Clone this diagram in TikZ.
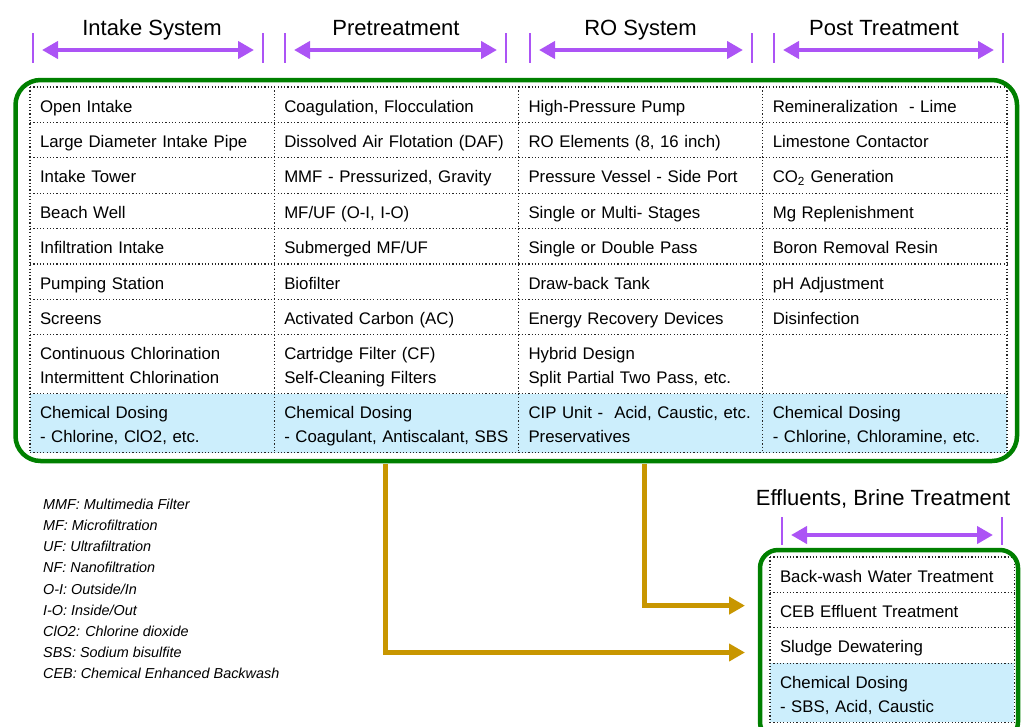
\documentclass[tikz,border=0pt]{standalone}
\usepackage{fontspec}
\setmainfont{Liberation Sans}
\usetikzlibrary{arrows.meta, positioning}

\definecolor{framegreen}{RGB}{0,128,0}
\definecolor{spanviolet}{RGB}{172,84,245}
\definecolor{dosebg}{RGB}{204,238,252}
\definecolor{feedgold}{RGB}{200,150,0}

\begin{document}
\begin{tikzpicture}[x=1pt, y=-1pt,
  cell/.style={anchor=north west, outer sep=0pt, inner xsep=10pt, inner ysep=0pt,
               text width=224.25pt, align=left, text height=25pt, text depth=10.4pt,
               font=\fontsize{16.8}{24}\selectfont},
  twoline/.style={cell, text depth=34pt},
  dose/.style={twoline, fill=dosebg},
  dotline/.style={draw=black!85, line width=1.2pt, dash pattern=on 1.2pt off 2.1pt},
  outline/.style={draw=framegreen, line width=4.5pt, rounded corners=25pt},
  title/.style={anchor=base, font=\fontsize{22}{26}\selectfont},
  span/.style={{Triangle[length=16pt, width=17pt]}-{Triangle[length=16pt, width=17pt]},
               spanviolet, line width=4pt, shorten <=9pt, shorten >=9pt},
  bar/.style={spanviolet, line width=2.5pt},
  feed/.style={-{Triangle[length=16pt, width=17pt]}, feedgold, line width=5pt, shorten >=25pt},
  legend/.style={anchor=north west, inner sep=0pt, align=left,
                 font=\fontsize{14.4}{21.1}\selectfont\itshape}
]
\useasboundingbox (0,0) rectangle (1024,726);
\clip (0,0) rectangle (1024,726);

% Intake system
\node[cell] (in1) at (30,87) {Open Intake};
\node[cell, below=0pt of in1] (in2) {Large Diameter Intake Pipe};
\node[cell, below=0pt of in2] (in3) {Intake Tower};
\node[cell, below=0pt of in3] (in4) {Beach Well};
\node[cell, below=0pt of in4] (in5) {Infiltration Intake};
\node[cell, below=0pt of in5] (in6) {Pumping Station};
\node[cell, below=0pt of in6] (in7) {Screens};
\node[twoline, below=0pt of in7] (in8) {Continuous Chlorination\\Intermittent Chlorination};
\node[dose, below=0pt of in8] (in9) {Chemical Dosing\\- Chlorine, ClO2, etc.};

% Pretreatment
\node[cell] (pre1) at (274.25,87) {Coagulation, Flocculation};
\node[cell, below=0pt of pre1] (pre2) {Dissolved Air Flotation (DAF)};
\node[cell, below=0pt of pre2] (pre3) {MMF - Pressurized, Gravity};
\node[cell, below=0pt of pre3] (pre4) {MF/UF (O-I, I-O)};
\node[cell, below=0pt of pre4] (pre5) {Submerged MF/UF};
\node[cell, below=0pt of pre5] (pre6) {Biofilter};
\node[cell, below=0pt of pre6] (pre7) {Activated Carbon (AC)};
\node[twoline, below=0pt of pre7] (pre8) {Cartridge Filter (CF)\\Self-Cleaning Filters};
\node[dose, below=0pt of pre8] (pre9) {Chemical Dosing\\- Coagulant, Antiscalant, SBS};

% RO system
\node[cell] (ro1) at (518.5,87) {High-Pressure Pump};
\node[cell, below=0pt of ro1] (ro2) {RO Elements (8, 16 inch)};
\node[cell, below=0pt of ro2] (ro3) {Pressure Vessel - Side Port};
\node[cell, below=0pt of ro3] (ro4) {Single or Multi- Stages};
\node[cell, below=0pt of ro4] (ro5) {Single or Double Pass};
\node[cell, below=0pt of ro5] (ro6) {Draw-back Tank};
\node[cell, below=0pt of ro6] (ro7) {Energy Recovery Devices};
\node[twoline, below=0pt of ro7] (ro8) {Hybrid Design\\Split Partial Two Pass, etc.};
\node[dose, below=0pt of ro8] (ro9) {CIP Unit -~~Acid, Caustic, etc.\\Preservatives};

% Post treatment
\node[cell] (post1) at (762.75,87) {Remineralization~~- Lime};
\node[cell, below=0pt of post1] (post2) {Limestone Contactor};
\node[cell, below=0pt of post2] (post3) {CO\textsubscript{2} Generation};
\node[cell, below=0pt of post3] (post4) {Mg Replenishment};
\node[cell, below=0pt of post4] (post5) {Boron Removal Resin};
\node[cell, below=0pt of post5] (post6) {pH Adjustment};
\node[cell, below=0pt of post6] (post7) {Disinfection};
\node[twoline, below=0pt of post7] (post8) {};
\node[dose, below=0pt of post8] (post9) {Chemical Dosing\\- Chlorine, Chloramine, etc.};

% dotted rules of the main table
\foreach \r in {1,...,9}
  \draw[dotline] (in\r.north west) -- (post\r.north east);
\draw[dotline] (in9.south west) -- (post9.south east);
\foreach \c in {in, pre, ro, post}
  \draw[dotline] (\c1.north west) -- (\c9.south west);
\draw[dotline] (post1.north east) -- (post9.south east);

% Effluents, brine treatment (bottom right)
\node[cell] (ef1) at (770,557) {Back-wash Water Treatment};
\node[cell, below=0pt of ef1] (ef2) {CEB Effluent Treatment};
\node[cell, below=0pt of ef2] (ef3) {Sludge Dewatering};
\node[dose, below=0pt of ef3] (ef4) {Chemical Dosing\\- SBS, Acid, Caustic};
\foreach \r in {1,...,4}
  \draw[dotline] (ef\r.north west) -- (ef\r.north east);
\draw[dotline] (ef4.south west) -- (ef4.south east);
\draw[dotline] (ef1.north west) -- (ef4.south west);
\draw[dotline] (ef1.north east) -- (ef4.south east);

% Green frames
\node[outline, minimum width=1001.5pt, minimum height=381pt] (plant) at (516.25,270.5) {};
\node[outline, rounded corners=18pt, minimum width=258pt, minimum height=190pt] (eff_box) at (889,645) {};

% Headings with span markers
\node[title] (intake_t) at (152,35) {Intake System};
\node[title] (pre_t)    at (396,35) {Pretreatment};
\node[title] (ro_t)     at (640.5,35) {RO System};
\node[title] (post_t)   at (884,35) {Post Treatment};
\node[title] (eff_t)    at (883,505) {Effluents, Brine Treatment};

\coordinate (intake_l) at (33,50);   \coordinate (intake_r) at (263,50);
\coordinate (pre_l)    at (285,50);  \coordinate (pre_r)    at (506,50);
\coordinate (ro_l)     at (530,50);  \coordinate (ro_r)     at (752,50);
\coordinate (post_l)   at (774,50);  \coordinate (post_r)   at (1003,50);
\coordinate (eff_l)    at (782,535); \coordinate (eff_r)    at (1002,535);

\draw[bar] (intake_l) ++(0,-17) -- ++(0,30);  \draw[bar] (intake_r) ++(0,-17) -- ++(0,30);
\draw[bar] (pre_l) ++(0,-17) -- ++(0,30);     \draw[bar] (pre_r) ++(0,-17) -- ++(0,30);
\draw[bar] (ro_l) ++(0,-17) -- ++(0,30);      \draw[bar] (ro_r) ++(0,-17) -- ++(0,30);
\draw[bar] (post_l) ++(0,-17) -- ++(0,30);    \draw[bar] (post_r) ++(0,-17) -- ++(0,30);
\draw[bar] (eff_l) ++(0,-18) -- ++(0,28);     \draw[bar] (eff_r) ++(0,-18) -- ++(0,28);

\draw[span] (intake_l) -- (intake_r);
\draw[span] (pre_l) -- (pre_r);
\draw[span] (ro_l) -- (ro_r);
\draw[span] (post_l) -- (post_r);
\draw[span] (eff_l) -- (eff_r);

% Abbreviations
\node[legend] (abbrev) at (43,499) {MMF: Multimedia Filter\\MF: Microfiltration\\UF: Ultrafiltration\\
  NF: Nanofiltration\\O-I: Outside/In\\I-O: Inside/Out\\ClO2: Chlorine dioxide\\
  SBS: Sodium bisulfite\\CEB: Chemical Enhanced Backwash};

% Waste streams to effluent treatment
\coordinate (tap_pre) at (385,464);
\coordinate (tap_ro)  at (644,464);
\draw[feed] (tap_ro) |- ([yshift=4.5pt]ef2.west);
\draw[feed] (tap_pre) |- ([yshift=-7pt]ef3.west);

\end{tikzpicture}
\end{document}
